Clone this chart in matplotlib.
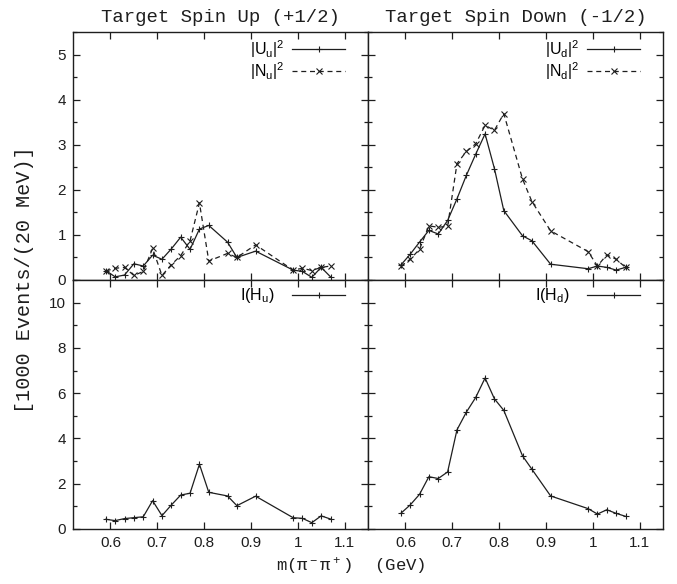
"""
Target spin up / down amplitudes vs m(pi- pi+)
4-panel chart, gnuplot-like look
"""

import matplotlib
matplotlib.use('Agg')
import matplotlib.pyplot as plt
from matplotlib.ticker import MultipleLocator

# mass bins (GeV)
mass = [0.59, 0.61, 0.63, 0.65, 0.67, 0.69, 0.71, 0.73, 0.75, 0.77,
        0.79, 0.81, 0.85, 0.87, 0.91, 0.99, 1.01, 1.03, 1.05, 1.07]

# target spin up
u_up = [0.21, 0.07, 0.11, 0.36, 0.31, 0.55, 0.46, 0.69, 0.95, 0.68,
        1.13, 1.21, 0.84, 0.50, 0.64, 0.22, 0.19, 0.06, 0.28, 0.07]
n_up = [0.20, 0.26, 0.28, 0.10, 0.19, 0.70, 0.10, 0.34, 0.54, 0.87,
        1.71, 0.42, 0.59, 0.50, 0.78, 0.22, 0.26, 0.21, 0.28, 0.31]
i_up = [0.43, 0.37, 0.46, 0.50, 0.54, 1.25, 0.59, 1.06, 1.50, 1.58,
        2.86, 1.62, 1.46, 1.03, 1.45, 0.50, 0.47, 0.28, 0.58, 0.44]

# target spin down
u_down = [0.33, 0.57, 0.84, 1.10, 1.02, 1.32, 1.80, 2.32, 2.79, 3.24,
          2.47, 1.54, 0.98, 0.87, 0.35, 0.25, 0.31, 0.28, 0.22, 0.28]
n_down = [0.30, 0.46, 0.68, 1.20, 1.17, 1.19, 2.58, 2.85, 3.02, 3.43,
          3.32, 3.69, 2.24, 1.74, 1.09, 0.63, 0.31, 0.56, 0.46, 0.28]
i_down = [0.69, 1.06, 1.53, 2.31, 2.23, 2.52, 4.38, 5.16, 5.81, 6.67,
          5.75, 5.24, 3.23, 2.64, 1.46, 0.90, 0.66, 0.85, 0.69, 0.56]

titles = ['Target Spin Up (+1/2)', 'Target Spin Down (-1/2)']
x_ticks = [0.6, 0.7, 0.8, 0.9, 1.0, 1.1]
x_tick_labels = ['0.6', '0.7', '0.8', '0.9', '1', '1.1']

INK = '#1e1e1e'
MONO = 'Liberation Mono'

plt.rcParams['font.family'] = ['Liberation Sans', 'DejaVu Sans']
plt.rcParams['mathtext.default'] = 'regular'


def style_axes(ax, top, show_x, show_y):
    """눈금/축 스타일 (gnuplot 느낌)"""
    ax.set_xlim(0.52, 1.15)
    if top:
        ax.set_ylim(0, 5.5)
        ax.yaxis.set_major_locator(MultipleLocator(1))
        ax.yaxis.set_minor_locator(MultipleLocator(0.5))
    else:
        ax.set_ylim(0, 11)
        ax.yaxis.set_major_locator(MultipleLocator(2))
        ax.yaxis.set_minor_locator(MultipleLocator(1))
    ax.set_xticks(x_ticks)
    ax.set_xticklabels(x_tick_labels)
    ax.tick_params(which='both', direction='in', top=True, right=True,
                   color=INK, labelcolor=INK, labelsize=11, width=0.9)
    ax.tick_params(which='major', length=5, pad=5)
    ax.tick_params(which='minor', length=3)
    if not show_x:
        ax.tick_params(labelbottom=False)
    if not show_y:
        ax.tick_params(labelleft=False)
    for s in ax.spines.values():
        s.set_color(INK)
        s.set_linewidth(1.0)


def add_legend(ax, text_gap):
    """gnuplot 스타일 범례 (라벨 왼쪽, 선 오른쪽)"""
    ax.legend(loc='upper right', bbox_to_anchor=(0.922, 0.975),
              frameon=False, markerfirst=False, borderaxespad=0,
              borderpad=0, handlelength=3.3, handletextpad=text_gap,
              labelspacing=0.0, fontsize=11.5, numpoints=1)


fig = plt.figure(figsize=(6.77, 5.84), dpi=100)

left0, width = 73 / 677, 295 / 677
top_b, top_h = 1 - 280 / 584, 248 / 584
bot_b, bot_h = 1 - 529 / 584, 249 / 584

axes = [
    [fig.add_axes([left0, top_b, width, top_h]),
     fig.add_axes([left0 + width, top_b, width, top_h])],
    [fig.add_axes([left0, bot_b, width, bot_h]),
     fig.add_axes([left0 + width, bot_b, width, bot_h])],
]

line_kw = dict(color=INK, linewidth=0.9)
plus_kw = dict(marker='+', ms=4.5, mew=0.8)
cross_kw = dict(marker='x', ms=3.8, mew=0.8, dashes=(4, 3))

# 위쪽 패널: |U|^2, |N|^2
ax = axes[0][0]
ax.plot(mass, u_up, '-', label='$|U_u|^2$', **plus_kw, **line_kw)
ax.plot(mass, n_up, '--', label='$|N_u|^2$', **cross_kw, **line_kw)
add_legend(ax, 0.5)

ax = axes[0][1]
ax.plot(mass, u_down, '-', label='$|U_d|^2$', **plus_kw, **line_kw)
ax.plot(mass, n_down, '--', label='$|N_d|^2$', **cross_kw, **line_kw)
add_legend(ax, 0.5)

# 아래쪽 패널: interference
ax = axes[1][0]
ax.plot(mass, i_up, '-', label='$I(H_u)$', **plus_kw, **line_kw)
add_legend(ax, 1.1)

ax = axes[1][1]
ax.plot(mass, i_down, '-', label='$I(H_d)$', **plus_kw, **line_kw)
add_legend(ax, 1.1)

for r in range(2):
    for c in range(2):
        style_axes(axes[r][c], top=(r == 0), show_x=(r == 1), show_y=(c == 0))

for c in range(2):
    axes[0][c].set_title(titles[c], family=MONO, fontsize=13.6, color=INK, pad=7)

fig.text(25 / 677, 1 - 280 / 584, '[1000 Events/(20 MeV)]', rotation=90,
         ha='center', va='center', family=MONO, fontsize=14.5, color=INK)
fig.text(351 / 677, 1 - 566 / 584, 'm(π$^-$π$^+$)  (GeV)',
         ha='center', va='center', family=MONO, fontsize=12.5, color=INK)

fig.savefig('out.png', dpi=100)
